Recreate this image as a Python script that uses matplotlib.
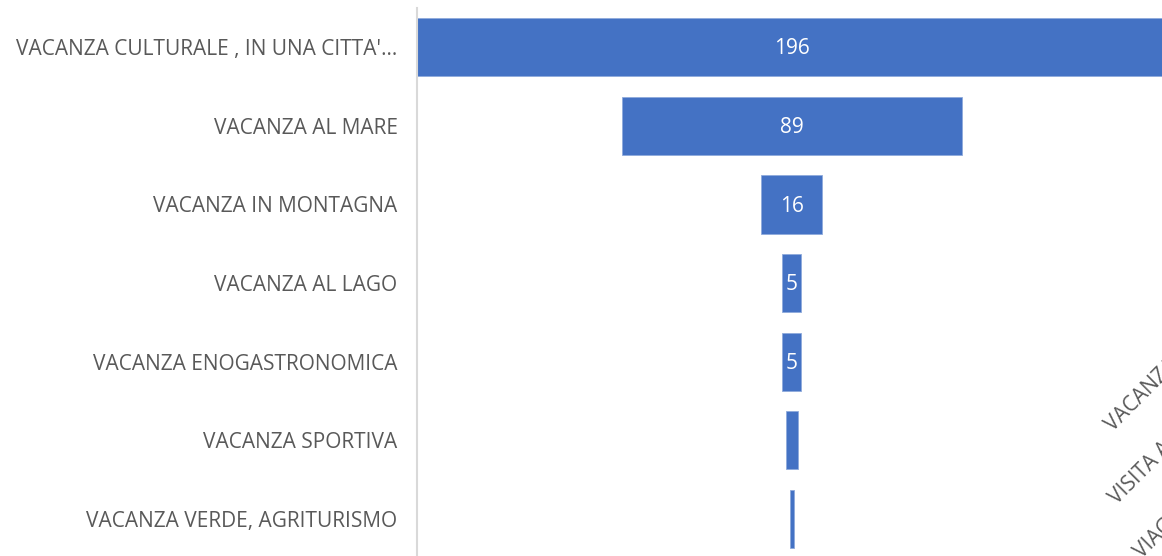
import matplotlib.pyplot as plt

# funnel data, top to bottom
categories = ["VACANZA CULTURALE , IN UNA CITTA'...", "VACANZA AL MARE",
              "VACANZA IN MONTAGNA", "VACANZA AL LAGO",
              "VACANZA ENOGASTRONOMICA", "VACANZA SPORTIVA",
              "VACANZA VERDE, AGRITURISMO"]
values = [196, 89, 16, 5, 5, 3, 1]
# labels of the neighbouring chart, cut by the picture edge
side_labels = ["VACANZA CULTURALE", "VISITA A PARENTI", "VIAGGIO"]

bar_color = "#4472C4"
text_color = "#595959"
plt.rcParams['font.family'] = ['Open Sans', 'DejaVu Sans']

fig = plt.figure(figsize=(11.62, 5.56), dpi=100)
ax = fig.add_axes([417 / 1162, -2 / 556, 1 - 417 / 1162, 550 / 556])

y = list(range(len(values)))
lefts = [-v / 2 for v in values]
ax.barh(y, values, left=lefts, height=0.74, color=bar_color,
        edgecolor="#8FAADC", linewidth=0.6)
for yi, v in zip(y, values):
    if v >= 5:
        ax.text(0, yi + 0.02, str(v), ha="center", va="center",
                color="white", fontsize=15)

ax.set_xlim(-98, 96.8)
ax.set_ylim(len(values) - 0.5, -0.5)
ax.set_xticks([])
ax.set_yticks(y)
ax.set_yticklabels(categories, fontsize=15, color=text_color)
ax.tick_params(axis="y", length=0, pad=14)
for s in ["top", "right", "bottom"]:
    ax.spines[s].set_visible(False)
ax.spines["left"].set_color("#D9D9D9")
ax.spines["left"].set_linewidth(1.5)

# rotated labels from the next chart
for (px, py), lab in zip([(1113, 432), (1117, 505), (1142, 559)], side_labels):
    fig.text(px / 1162, 1 - py / 556, lab, rotation=45, rotation_mode="anchor",
             ha="left", va="baseline", fontsize=15, color=text_color)

fig.savefig("out.png", dpi=100)
